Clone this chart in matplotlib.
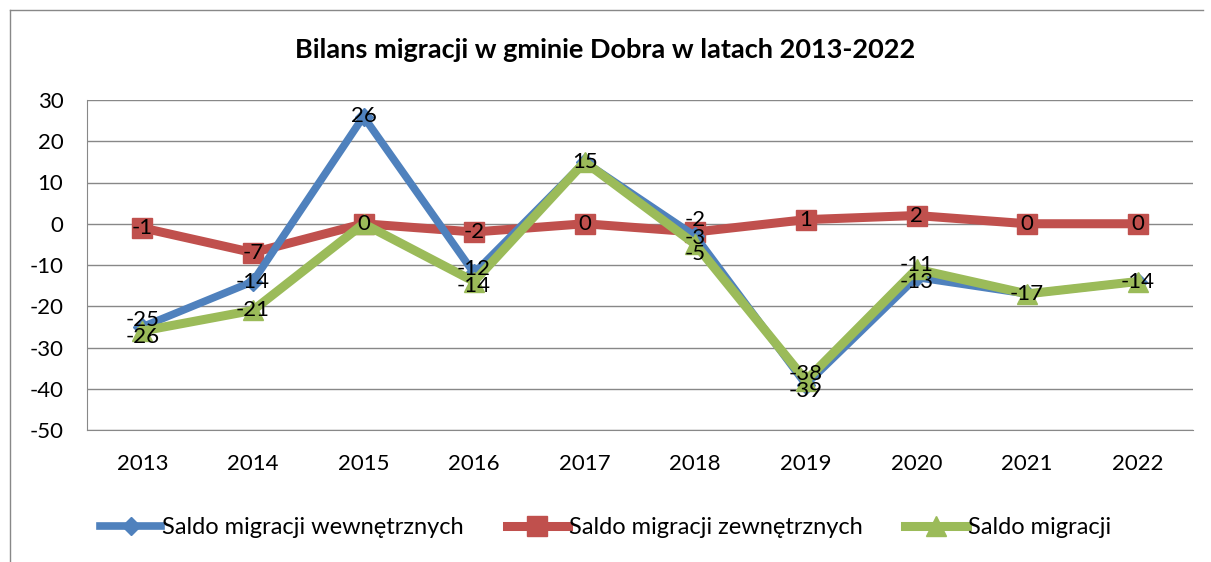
import matplotlib.pyplot as plt
from matplotlib.lines import Line2D

years = ['2013', '2014', '2015', '2016', '2017', '2018', '2019', '2020', '2021', '2022']
wewn = [-25, -14, 26, -12, 15, -3, -39, -13, -17, -14]
zewn = [-1, -7, 0, -2, 0, -2, 1, 2, 0, 0]
saldo = [-26, -21, 0, -14, 15, -5, -38, -11, -17, -14]

labels = ['Saldo migracji wewnętrznych', 'Saldo migracji zewnętrznych', 'Saldo migracji']
colors = ['#4F81BD', '#C0504D', '#9BBB59']

plt.rcParams['font.family'] = ['Lato', 'DejaVu Sans']
plt.rcParams['axes.unicode_minus'] = False

fig = plt.figure(figsize=(12.11, 5.62), dpi=100)
ax = fig.add_axes([87 / 1211, 1 - 430 / 562, (1193 - 87) / 1211, 330 / 562])

x = list(range(len(years)))
ax.plot(x, wewn, color=colors[0], lw=5.5, marker='D', ms=9, zorder=3)
ax.plot(x, zewn, color=colors[1], lw=6.5, marker='s', ms=15, zorder=2)
ax.plot(x, saldo, color=colors[2], lw=6.5, marker='^', ms=14, zorder=4)

ax.set_xlim(-0.5, 9.5)
ax.set_ylim(-50, 30)

# data labels: equal values share one label, close ones get spread apart
px_per_unit = 330 / 80
gap = 17  # px between label centres
for xi in x:
    vals = sorted(set([wewn[xi], zewn[xi], saldo[xi]]), reverse=True)
    groups = [[v] for v in vals]
    merged = True
    while merged:
        merged = False
        for i in range(len(groups) - 1):
            a, b = groups[i], groups[i + 1]
            if (min(a) - max(b)) * px_per_unit < gap:
                groups[i] = a + b
                del groups[i + 1]
                merged = True
                break
    for g in groups:
        mid = sum(g) / len(g) * px_per_unit
        n = len(g)
        for k, v in enumerate(g):
            ypx = mid + ((n - 1) / 2 - k) * gap
            dy = (ypx - v * px_per_unit) * 0.72
            ax.annotate(str(v), (xi, v), xytext=(0, dy), textcoords='offset points',
                        ha='center', va='center', fontsize=16, zorder=6)

ax.set_yticks(range(-50, 31, 10))
ax.set_xticks(x)
ax.set_xticklabels(years)
ax.tick_params(labelsize=16, length=0)
ax.tick_params(axis='x', pad=17)
ax.tick_params(axis='y', pad=17)
ax.grid(axis='y', color='#888888', lw=1)
ax.set_axisbelow(True)
for s in ['top', 'right']:
    ax.spines[s].set_visible(False)
for s in ['left', 'bottom']:
    ax.spines[s].set_color('#888888')

fig.text(0.5, 1 - 50 / 562, 'Bilans migracji w gminie Dobra w latach 2013-2022',
         ha='center', va='center', fontsize=19.5, fontweight='bold')

handles = [Line2D([], [], color=colors[0], lw=5.5, marker='D', ms=9),
           Line2D([], [], color=colors[1], lw=6.5, marker='s', ms=15),
           Line2D([], [], color=colors[2], lw=6.5, marker='^', ms=14)]
fig.legend(handles, labels, loc='center', bbox_to_anchor=(0.5, 1 - 528 / 562), ncol=3,
           frameon=False, fontsize=17, handlelength=2.6, handletextpad=0.05, columnspacing=1.8)

# outer chart frame
fig.add_artist(Line2D([10 / 1211, 10 / 1211], [0, 1 - 10 / 562], color='#888888', lw=1))
fig.add_artist(Line2D([10 / 1211, 1203 / 1211], [1 - 10 / 562, 1 - 10 / 562], color='#888888', lw=1))

fig.savefig('out.png', dpi=100)
